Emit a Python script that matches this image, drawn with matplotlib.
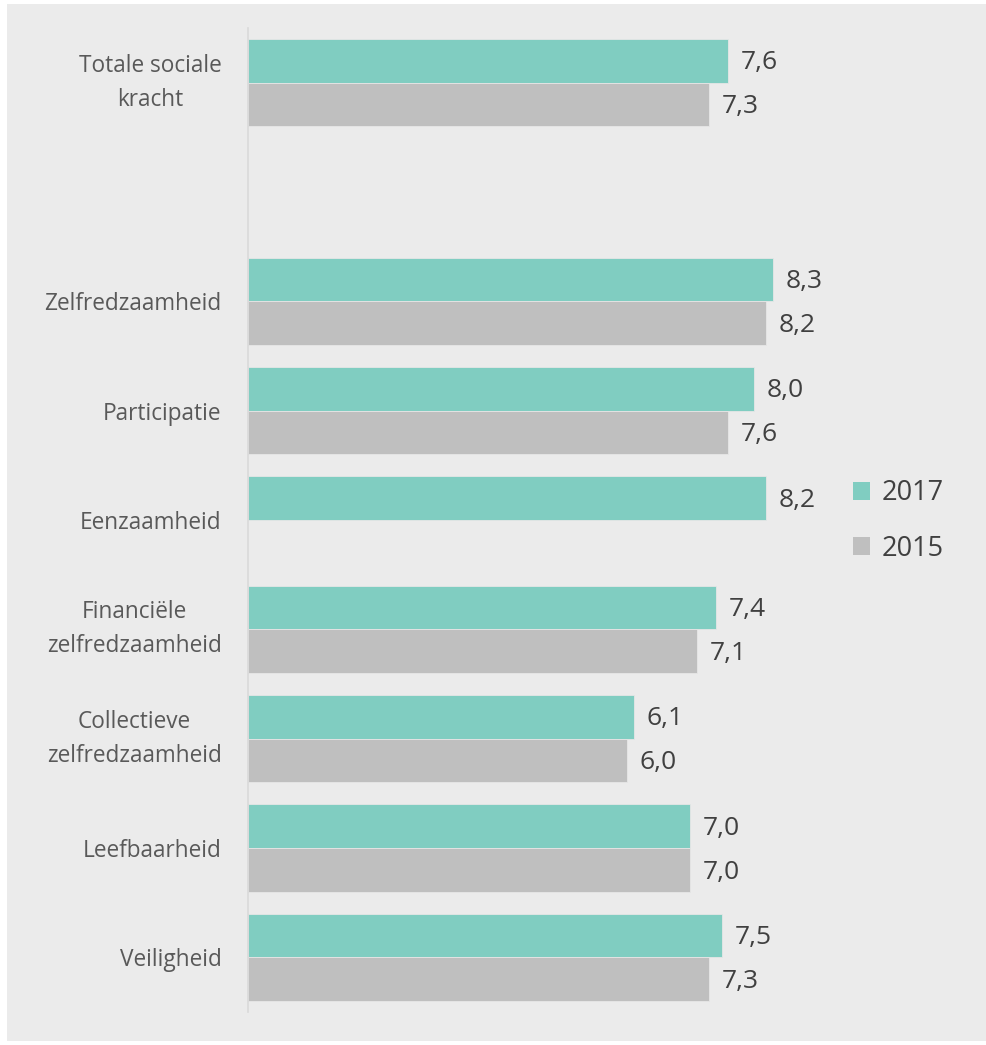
import numpy as np
import matplotlib
matplotlib.use("Agg")
import matplotlib.pyplot as plt
from matplotlib.patches import Rectangle, Patch

plt.rcParams['font.family'] = ['Open Sans', 'DejaVu Sans']

categories = ["Totale sociale\nkracht", "", "Zelfredzaamheid", "Participatie", "Eenzaamheid",
              "Financiële\nzelfredzaamheid", "Collectieve\nzelfredzaamheid", "Leefbaarheid", "Veiligheid"]
values_2017 = [7.6, np.nan, 8.3, 8.0, 8.2, 7.4, 6.1, 7.0, 7.5]
values_2015 = [7.3, np.nan, 8.2, 7.6, np.nan, 7.1, 6.0, 7.0, 7.3]
series_names = ["2017", "2015"]
colors = ["#80cdc1", "#bfbfbf"]

W, H = 986, 1045
fig = plt.figure(figsize=(W / 100, H / 100), dpi=100)
fig.patch.set_facecolor("white")
fig.patches.append(Rectangle((7 / W, 4 / H), (986 - 7) / W, (1041 - 4) / H,
                             transform=fig.transFigure, facecolor="#ebebeb",
                             edgecolor="none", zorder=-10))

ax_left, ax_right = 248, 880
ax_top, ax_bottom = 28, 1012
ax = fig.add_axes([ax_left / W, 1 - ax_bottom / H, (ax_right - ax_left) / W, (ax_bottom - ax_top) / H])
ax.set_facecolor("none")

y = np.arange(len(categories))
h = 0.4
for vals, off, c in [(values_2017, -h / 2, colors[0]), (values_2015, h / 2, colors[1])]:
    v = np.array(vals, dtype=float)
    mask = ~np.isnan(v)
    ax.barh(y[mask] + off, v[mask], height=h, color=c, edgecolor="#e6e6e6", linewidth=0.6)
    for yi, vi in zip(y[mask] + off, v[mask]):
        ax.text(vi + 0.2, yi + 0.02, f"{vi:.1f}".replace(".", ","), va="center", ha="left",
                fontsize=19, color="#404040")

ax.set_xlim(0, 10)
ax.set_ylim(len(categories) - 0.5, -0.5)
ax.set_yticks(y)
ax.set_yticklabels(categories, fontsize=16.3, color="#595959", linespacing=1.55)
for lbl in ax.get_yticklabels():
    lbl.set_multialignment("center")
    if "\n" in lbl.get_text():
        lbl.set_verticalalignment("center")
ax.tick_params(axis="y", length=0, pad=19)
ax.tick_params(axis="x", bottom=False, labelbottom=False)
for s in ["top", "right", "bottom"]:
    ax.spines[s].set_visible(False)
ax.spines["left"].set_color("#d9d9d9")
ax.spines["left"].set_linewidth(1.2)

handles = [Patch(facecolor=colors[0]), Patch(facecolor=colors[1])]
leg = fig.legend(handles, series_names, loc="center left",
                 bbox_to_anchor=(829 / W, 1 - 521 / H), frameon=False,
                 fontsize=19.5, handlelength=0.6, handleheight=0.6, handletextpad=0.45,
                 labelspacing=1.0, labelcolor="#404040")

fig.savefig("out.png", dpi=100, facecolor=fig.get_facecolor())
